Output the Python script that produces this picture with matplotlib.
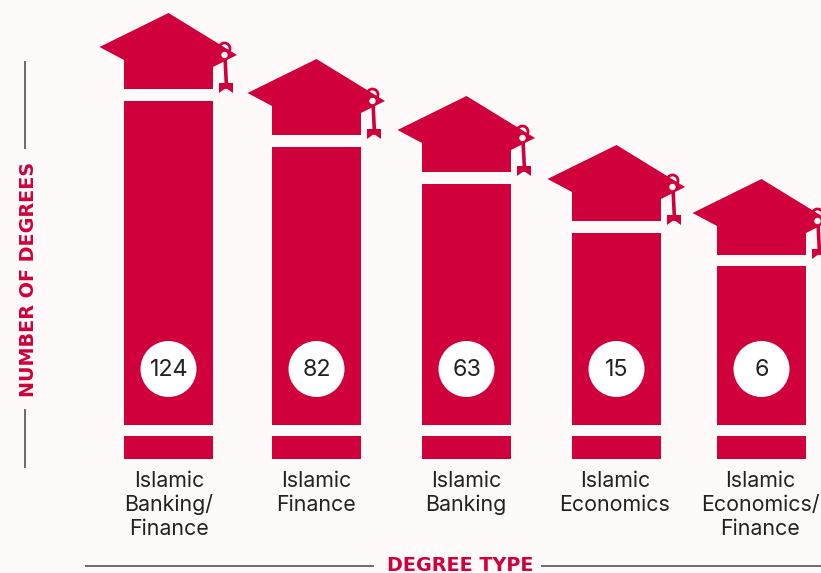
import matplotlib
matplotlib.use('Agg')
import matplotlib.pyplot as plt
from matplotlib.patches import Polygon, Circle

plt.rcParams['font.family'] = ['Inter', 'DejaVu Sans']

RED = '#D0003C'
BG = '#FEFAF9'
GREY = '#6B6B6B'
DARK = '#222222'

categories = ['Islamic\nBanking/\nFinance', 'Islamic\nFinance', 'Islamic\nBanking',
              'Islamic\nEconomics', 'Islamic\nEconomics/\nFinance']
degrees = [124, 82, 63, 15, 6]
# the bars are pictorial, not to scale, so heights are read separately
bar_heights = [358, 312, 275, 226, 193]
bar_centers = [168.5, 316.5, 466.5, 616.5, 761.5]
label_centers = [169, 316, 466, 615, 760]
hat_shift = [0, 0, 0, 0, 1]

BASE = 459
W = 89


def draw_hat(ax, cx, top):
    hat = [(cx, top - 88), (cx - 69, top - 54), (cx - 44.5, top - 41), (cx - 44.5, top - 12),
           (cx + 44.5, top - 12), (cx + 44.5, top - 34), (cx + 68.5, top - 46)]
    ax.add_patch(Polygon(hat, closed=True, fc=RED, ec='none', zorder=3))
    # tassel
    tx = cx + 56
    ax.plot([tx + 0.5, tx + 2], [top - 44, top - 14], color=RED, lw=2.6, zorder=3)
    arrow = [(tx - 5.5, top - 18), (tx + 8.5, top - 18), (tx + 8.5, top - 8),
             (tx + 1.5, top - 13), (tx - 5.5, top - 8)]
    ax.add_patch(Polygon(arrow, closed=True, fc=RED, ec='none', zorder=3))
    ax.add_patch(Circle((tx, top - 52.5), 5.5, fc='none', ec=RED, lw=2, zorder=3))
    ax.add_patch(Circle((tx, top - 46), 3.2, fc=BG, ec='none', zorder=4))


fig = plt.figure(figsize=(8.21, 5.73), dpi=100, facecolor=BG)
ax = fig.add_axes([0, 0, 1, 1])
ax.set_xlim(0, 821)
ax.set_ylim(573, 0)
ax.axis('off')

ax.bar(bar_centers, [-h for h in bar_heights], bottom=BASE, width=W, color=RED, zorder=2)
ax.bar(bar_centers, 11, bottom=425, width=W + 2, color=BG, zorder=3)

for cx, h, d, c, lx, s in zip(bar_centers, bar_heights, degrees, categories, label_centers, hat_shift):
    draw_hat(ax, cx, BASE - h + s)
    ax.add_patch(Circle((cx, 369), 28, fc='white', ec='none', zorder=4))
    ax.text(cx + 0.5, 370.5, str(d), ha='center', va='center', fontsize=16.8, color=DARK, zorder=5)
    # one text per line so the 24 px line pitch holds for two and three liners
    for i, line in enumerate(c.split('\n')):
        ax.text(lx, 487 + 24 * i, line, ha='center', va='baseline', fontsize=15.4, color=DARK)

# axis titles with rules
ax.text(28.5, 279, 'NUMBER OF DEGREES', rotation=90, ha='center', va='center',
        fontsize=13.8, fontweight='bold', color=RED, family='DejaVu Sans')
ax.plot([25, 25], [62, 148], color=GREY, lw=1.4)
ax.plot([25, 25], [410, 467], color=GREY, lw=1.4)

ax.text(460, 571, 'DEGREE TYPE', ha='center', va='baseline',
        fontsize=13.8, fontweight='bold', color=RED, family='DejaVu Sans')
ax.plot([86, 373], [566, 566], color=GREY, lw=1.4)
ax.plot([542, 821], [566, 566], color=GREY, lw=1.4)

fig.savefig('out.png', dpi=100, facecolor=BG)
